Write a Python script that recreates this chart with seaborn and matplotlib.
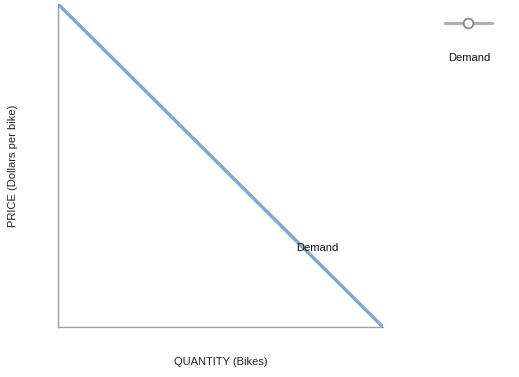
import matplotlib
matplotlib.use("Agg")
import matplotlib.pyplot as plt
import seaborn as sns
import pandas as pd
from matplotlib.lines import Line2D

quantity = [0, 10]
price = [10, 0]
series_name = "Demand"
label_pos = (7.97, 2.45)

sns.set_style("white")
plt.rcParams['font.family'] = ['Liberation Sans', 'DejaVu Sans']

df = pd.DataFrame({"Quantity": quantity, "Price": price})

fig = plt.figure(figsize=(5.19, 3.77), dpi=100)
ax = fig.add_axes([58/519, 1-327/377, (383-58)/519, (327-4)/377])

line_color = "#80a9d1"
sns.lineplot(data=df, x="Quantity", y="Price", ax=ax, color=line_color,
             linewidth=2.5, solid_capstyle="butt")
ax.set_xlim(0, 10)
ax.set_ylim(0, 10)
ax.set_xticks([])
ax.set_yticks([])
for s in ["top", "right"]:
    ax.spines[s].set_visible(False)
for s in ["left", "bottom"]:
    ax.spines[s].set_color("#a0a0a0")
    ax.spines[s].set_linewidth(1.0)

ax.set_xlabel("QUANTITY (Bikes)", fontsize=8, color="#222222")
ax.set_ylabel("PRICE (Dollars per bike)", fontsize=8, color="#222222")
ax.xaxis.set_label_coords(0.5, (327-362)/323)
ax.yaxis.set_label_coords((13-58)/325, 0.5)
ax.xaxis.label.set_va("center")
ax.yaxis.label.set_va("center")

ax.text(label_pos[0], label_pos[1], series_name, fontsize=8, ha="center", va="center", color="#111111")

# legend
fig.add_artist(Line2D([445/519, 492/519], [1-23/377, 1-23/377], color="#b0b0b0", linewidth=2.3,
                      transform=fig.transFigure))
fig.add_artist(Line2D([468/519], [1-23/377], marker="o", markersize=7, markerfacecolor="white",
                      markeredgecolor="#888888", markeredgewidth=1.3, transform=fig.transFigure))
fig.text(469/519, 1-58/377, series_name, fontsize=8, ha="center", va="center", color="#111111")

fig.savefig("out.png", dpi=100)
